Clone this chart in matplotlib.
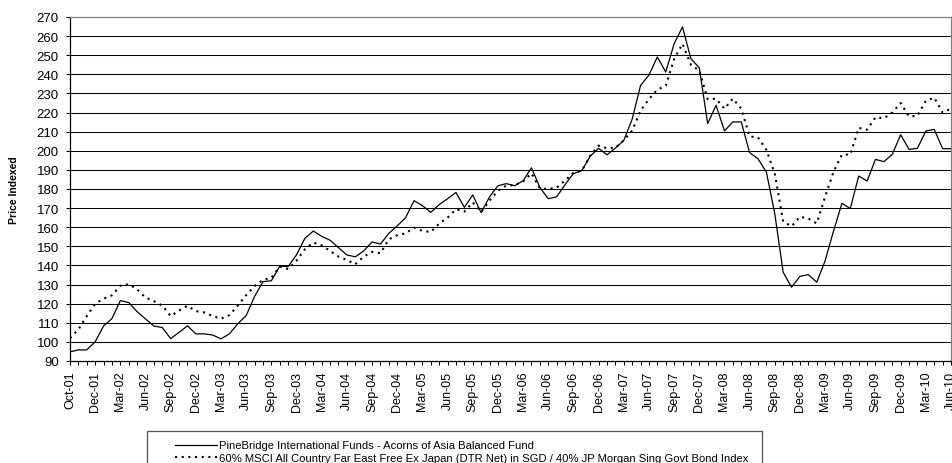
import numpy as np
import matplotlib
matplotlib.use("Agg")
import matplotlib.pyplot as plt
from matplotlib.patches import Rectangle

plt.rcParams['font.family'] = ['Liberation Sans', 'DejaVu Sans']

tick_labels = ["Oct-01", "Dec-01", "Mar-02", "Jun-02", "Sep-02", "Dec-02",
               "Mar-03", "Jun-03", "Sep-03", "Dec-03", "Mar-04", "Jun-04",
               "Sep-04", "Dec-04", "Mar-05", "Jun-05", "Sep-05", "Dec-05",
               "Mar-06", "Jun-06", "Sep-06", "Dec-06", "Mar-07", "Jun-07",
               "Sep-07", "Dec-07", "Mar-08", "Jun-08", "Sep-08", "Dec-08",
               "Mar-09", "Jun-09", "Sep-09", "Dec-09", "Mar-10", "Jun-10"]

fund = [94.8, 95.8, 95.8, 100.1, 108.3, 112.2, 121.6, 120.6, 115.8, 112.0,
        108.3, 107.5, 101.7, 105.0, 108.4, 104.2, 104.2, 103.6, 101.6, 104.2,
        109.5, 113.8, 123.8, 131.5, 132.0, 139.6, 139.4, 145.6, 154.2, 158.0,
        155.2, 153.2, 149.3, 145.5, 144.5, 147.6, 152.3, 151.2, 156.8, 160.7,
        165.0, 173.9, 171.3, 167.8, 171.8, 174.9, 178.2, 170.4, 176.9, 167.6,
        175.9, 181.7, 182.8, 181.7, 184.3, 191.1, 180.8, 174.9, 175.9, 182.3,
        188.1, 189.6, 197.2, 201.3, 197.9, 201.4, 205.4, 216.5, 234.2, 239.6,
        249.1, 241.2, 256.0, 264.8, 248.2, 243.4, 214.2, 223.8, 210.4, 215.1,
        215.1, 199.0, 195.8, 188.8, 167.0, 136.4, 128.6, 134.3, 135.2, 131.2,
        142.5, 158.0, 172.5, 169.8, 186.8, 184.2, 195.5, 194.3, 198.1, 208.4,
        200.7, 201.3, 210.3, 211.2, 201.1, 201.1]

bench = [102.0, 106.5, 113.5, 120.0, 122.6, 124.4, 129.4, 130.2, 127.5, 123.2,
         121.3, 119.0, 113.5, 116.4, 118.9, 116.1, 115.4, 113.5, 112.1, 114.0,
         119.0, 124.5, 129.2, 132.5, 133.5, 139.4, 138.1, 142.5, 148.5, 152.0,
         150.5, 147.6, 144.6, 142.9, 140.6, 144.6, 147.1, 146.4, 153.7, 155.8,
         156.8, 159.8, 158.1, 157.5, 161.9, 165.0, 169.4, 168.2, 173.0, 168.0,
         174.0, 179.1, 181.8, 182.1, 183.9, 188.2, 180.2, 180.0, 180.7, 184.4,
         188.5, 189.6, 197.4, 202.7, 201.3, 201.5, 205.5, 210.5, 221.0, 227.0,
         232.0, 234.0, 248.0, 256.0, 245.0, 242.0, 227.0, 227.2, 222.0, 227.3,
         222.0, 207.5, 207.0, 200.5, 188.0, 163.0, 160.5, 165.5, 164.5, 162.0,
         176.0, 189.0, 198.0, 198.0, 212.0, 211.0, 217.5, 217.0, 220.0, 225.0,
         218.0, 218.3, 226.2, 227.8, 220.0, 222.0]

fund_label = "PineBridge International Funds - Acorns of Asia Balanced Fund"
bench_label = ("60% MSCI All Country Far East Free Ex Japan (DTR Net) in SGD / "
               "40% JP Morgan Sing Govt Bond Index")
y_ticks = list(range(90, 271, 10))
y_title = "Price Indexed"

W, H = 952, 464
fig = plt.figure(figsize=(W / 100, H / 100), dpi=100)
ax = fig.add_axes([70 / W, 1 - 362 / H, 881 / W, 344 / H])

x = np.arange(len(fund))
ax.plot(x, fund, color='black', lw=0.9, label=fund_label, zorder=3)
ax.plot(x, bench, color='black', lw=1.5, linestyle=(0, (1, 2.2)),
        label=bench_label, zorder=3)

ax.set_xlim(0, len(fund) - 1)
ax.set_ylim(y_ticks[0], y_ticks[-1])
ax.set_yticks(y_ticks)
ax.set_xticks(np.arange(0, len(fund), 3))
ax.set_xticklabels(tick_labels, rotation=90)
ax.set_xticks(x, minor=True)
ax.grid(axis='y', color='black', lw=0.75, zorder=1)
ax.set_axisbelow(True)

ax.tick_params(axis='both', which='both', direction='out', length=3,
               width=0.75, color='black', labelsize=9)
ax.tick_params(axis='y', labelsize=9.5, pad=5)
ax.tick_params(axis='x', pad=4)

for side in ['left', 'bottom']:
    ax.spines[side].set_color('black')
    ax.spines[side].set_linewidth(0.9)
for side in ['top', 'right']:
    ax.spines[side].set_color('#808080')
    ax.spines[side].set_linewidth(0.9)

ax.set_ylabel(y_title, fontsize=7.5, fontweight='bold', labelpad=13)

# legend frame (extends past bottom edge like the reference)
frame = Rectangle((147 / W, -0.05), (762 - 147) / W, 0.05 + 1 - 432 / H,
                  transform=fig.transFigure, fill=False, edgecolor='#505050',
                  lw=0.9, clip_on=False)
fig.add_artist(frame)

handles, labels = ax.get_legend_handles_labels()
fig.legend(handles, labels, loc='upper left',
           bbox_to_anchor=(175 / W, 1 - 441.5 / H), frameon=False,
           borderpad=0, borderaxespad=0, handlelength=3.7,
           handletextpad=0.2, labelspacing=0.25, fontsize=8.1)

fig.savefig("out.png", dpi=100)
